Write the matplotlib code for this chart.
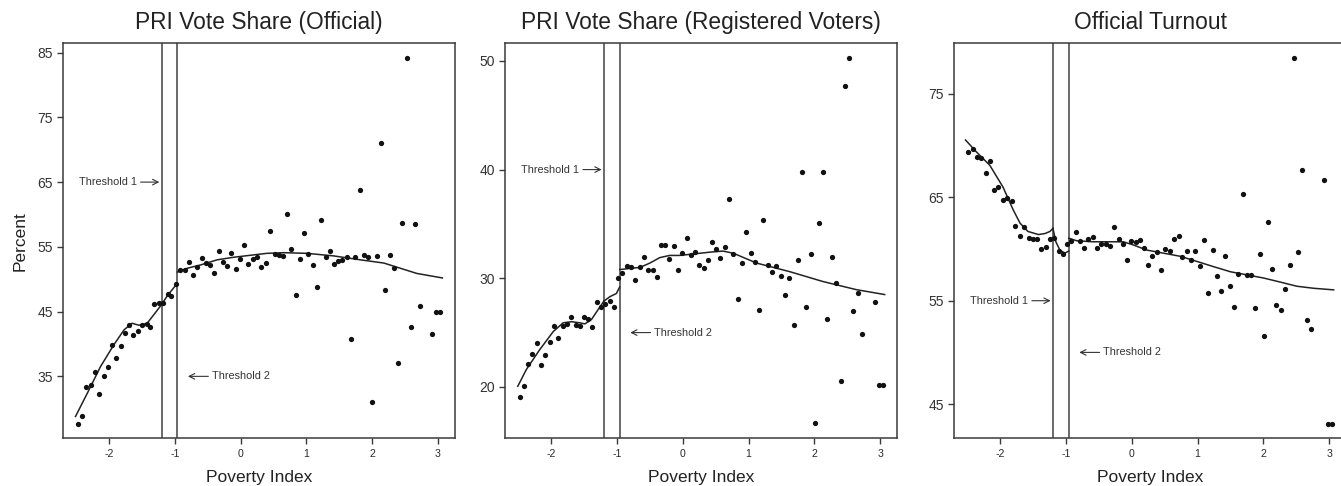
import matplotlib
matplotlib.use("Agg")
import matplotlib.pyplot as plt

plt.rcParams['font.family'] = ['Liberation Sans', 'DejaVu Sans']
plt.rcParams['axes.unicode_minus'] = False

# ---------------- data ----------------
titles = ["PRI Vote Share (Official)", "PRI Vote Share (Registered Voters)", "Official Turnout"]
x_label = "Poverty Index"
y_label = "Percent"
threshold1 = -1.2
threshold2 = -0.96

# Panel 1: PRI vote share (official)
p1_x = [-2.477, -2.41, -2.345, -2.28, -2.21, -2.15, -2.08, -2.02, -1.95, -1.89, -1.82, -1.76,
        -1.69, -1.63, -1.565, -1.50, -1.43, -1.37, -1.31, -1.24, -1.175, -1.11, -1.05, -0.98,
        -0.92, -0.85, -0.79, -0.72, -0.66, -0.59, -0.53, -0.47, -0.40, -0.33, -0.27, -0.21,
        -0.14, -0.07, -0.01, 0.06, 0.12, 0.19, 0.25, 0.319, 0.385, 0.45, 0.517, 0.578, 0.643,
        0.709, 0.775, 0.84, 0.90, 0.968, 1.033, 1.10, 1.165, 1.23, 1.297, 1.357, 1.42, 1.49,
        1.55, 1.62, 1.68, 1.748, 1.81, 1.88, 1.945, 2.006, 2.07, 2.138, 2.20, 2.27, 2.33,
        2.396, 2.46, 2.53, 2.59, 2.66, 2.725, 2.91, 2.98, 3.04]
p1_y = [27.6, 28.9, 33.4, 33.7, 35.6, 32.3, 35.0, 36.5, 39.9, 37.9, 39.7, 41.7,
        42.9, 41.4, 42.0, 42.9, 43.1, 42.7, 46.1, 46.4, 46.3, 47.7, 47.4, 49.3,
        51.4, 51.5, 52.6, 50.7, 51.9, 53.3, 52.5, 52.2, 51.0, 54.4, 52.7, 52.1,
        54.0, 51.6, 53.1, 55.3, 52.4, 53.2, 53.5, 51.9, 52.5, 57.4, 53.9, 53.7, 53.6,
        60.0, 54.6, 47.5, 53.2, 57.1, 53.9, 52.2, 48.8, 59.2, 53.5, 54.4, 52.3, 52.8,
        53.0, 53.5, 40.8, 53.5, 63.8, 53.7, 53.5, 31.1, 53.6, 71.1, 48.3, 53.7, 51.7,
        37.0, 58.7, 84.2, 42.7, 58.6, 45.8, 41.6, 44.9, 44.9]
p1_fit_x = [-2.51, -2.33, -2.13, -1.925, -1.77, -1.65, -1.545, -1.42, -1.32, -1.20,
            -1.20, -1.11, -1.03, -0.96,
            -0.96, -0.81, -0.61, -0.355, -0.10, 0.15, 0.40, 0.66, 1.01, 1.42, 1.82, 2.18,
            2.43, 2.68, 3.07]
p1_fit_y = [28.8, 32.4, 36.5, 39.9, 42.2, 43.2, 42.9, 43.2, 44.5, 46.1,
            46.1, 47.5, 48.5, 49.4,
            51.1, 51.7, 52.2, 53.0, 53.4, 53.7, 54.0, 54.1, 54.0, 53.6, 53.0, 52.5,
            51.7, 50.9, 50.2]

# Panel 2: PRI vote share (registered voters)
p2_x = [-2.48, -2.415, -2.35, -2.29, -2.22, -2.156, -2.09, -2.02, -1.96, -1.90, -1.83, -1.766,
        -1.70, -1.63, -1.57, -1.50, -1.436, -1.375, -1.31, -1.24, -1.18, -1.11, -1.05, -0.984,
        -0.918, -0.85, -0.786, -0.72, -0.654, -0.594, -0.528, -0.46, -0.40, -0.335, -0.27,
        -0.21, -0.137, -0.07, -0.005, 0.06, 0.12, 0.19, 0.25, 0.315, 0.38, 0.446, 0.51, 0.573,
        0.64, 0.705, 0.77, 0.837, 0.90, 0.964, 1.03, 1.096, 1.16, 1.22, 1.29, 1.354, 1.42,
        1.486, 1.55, 1.618, 1.684, 1.745, 1.816, 1.877, 1.943, 2.01, 2.07, 2.136, 2.20, 2.27,
        2.33, 2.40, 2.46, 2.53, 2.59, 2.66, 2.72, 2.92, 2.98, 3.04]
p2_y = [19.05, 20.06, 22.1, 23.0, 24.0, 22.0, 22.9, 24.1, 25.6, 24.5, 25.6, 25.8,
        26.4, 25.7, 25.6, 26.4, 26.25, 25.5, 27.8, 27.35, 27.65, 27.9, 27.4, 30.0,
        30.5, 31.1, 31.0, 29.8, 31.0, 32.0, 30.8, 30.8, 30.1, 33.1, 33.1,
        31.8, 33.0, 30.8, 32.35, 33.7, 32.1, 32.4, 31.2, 30.9, 31.7, 33.3, 32.65, 31.86,
        32.9, 37.3, 32.2, 28.1, 31.4, 34.3, 32.3, 31.5, 27.1, 35.4, 31.2, 30.6, 31.1,
        30.2, 28.5, 30.0, 25.7, 31.7, 39.8, 27.4, 32.25, 16.7, 35.1, 39.8, 26.25, 32.0,
        29.6, 20.5, 47.7, 50.3, 27.0, 28.6, 24.9, 27.8, 20.2, 20.2]
p2_fit_x = [-2.51, -2.38, -2.18, -1.97, -1.82, -1.69, -1.57, -1.49, -1.39, -1.29, -1.20,
            -1.20, -1.11, -1.01, -0.96,
            -0.96, -0.81, -0.65, -0.50, -0.35, -0.20, -0.05, 0.11, 0.41, 0.61, 0.77, 1.12,
            1.63, 2.13, 2.64, 3.07]
p2_fit_y = [20.06, 21.6, 23.4, 25.1, 25.9, 26.0, 25.9, 25.8, 26.2, 27.1, 27.9,
            27.9, 28.3, 28.6, 29.2,
            30.8, 30.9, 31.0, 31.4, 31.9, 32.1, 32.1, 32.2, 32.4, 32.5, 32.3, 31.4,
            30.6, 29.7, 28.95, 28.5]

# Panel 3: official turnout
p3_x = [-2.487, -2.42, -2.355, -2.29, -2.22, -2.16, -2.094, -2.03, -1.96, -1.90, -1.83, -1.77,
        -1.70, -1.64, -1.57, -1.51, -1.44, -1.38, -1.31, -1.245, -1.185, -1.115, -1.05,
        -0.986, -0.92, -0.856, -0.79, -0.725, -0.66, -0.595, -0.53, -0.465, -0.40, -0.33,
        -0.27, -0.20, -0.14, -0.073, -0.007, 0.06, 0.12, 0.186, 0.25, 0.313, 0.38, 0.445,
        0.51, 0.577, 0.643, 0.71, 0.77, 0.836, 0.90, 0.968, 1.034, 1.10, 1.16, 1.228, 1.294,
        1.355, 1.42, 1.487, 1.55, 1.62, 1.685, 1.746, 1.81, 1.878, 1.944, 2.01, 2.07, 2.137,
        2.20, 2.27, 2.335, 2.40, 2.46, 2.53, 2.59, 2.66, 2.73, 2.92, 2.98, 3.04]
p3_y = [69.4, 69.7, 68.9, 68.85, 67.4, 68.5, 65.7, 66.0, 64.7, 64.9, 64.6, 62.2,
        61.3, 62.1, 61.1, 60.95, 60.95, 60.0, 60.2, 60.95, 61.1, 59.8, 59.5,
        60.5, 60.8, 61.6, 60.8, 60.1, 60.95, 61.2, 60.1, 60.5, 60.5, 60.3,
        62.1, 61.0, 60.5, 58.9, 60.8, 60.7, 60.9, 60.1, 58.5, 59.3, 59.75, 58.0,
        60.05, 59.8, 61.0, 61.3, 59.2, 59.85, 58.9, 59.85, 58.4, 60.9, 55.7, 59.95, 57.4,
        55.9, 59.3, 56.4, 54.4, 57.6, 65.3, 57.5, 57.5, 54.25, 59.5, 51.6, 62.6, 58.1,
        54.6, 54.1, 56.1, 58.5, 78.5, 59.7, 67.6, 53.15, 52.3, 66.7, 43.1, 43.1]
p3_fit_x = [-2.53, -2.365, -2.16, -1.96, -1.805, -1.70, -1.58, -1.42, -1.32, -1.245, -1.20,
            -1.20, -1.155, -1.095, -1.02, -0.96,
            -0.96, -0.84, -0.59, -0.33, -0.13, 0.02, 0.227, 0.48, 0.735, 0.99, 1.24, 1.50,
            1.75, 2.00, 2.26, 2.51, 2.77, 3.07]
p3_fit_y = [70.55, 69.4, 68.1, 66.0, 63.8, 62.5, 61.7, 61.4, 61.5, 61.7, 62.0,
            62.0, 60.7, 59.9, 59.6, 59.8,
            61.05, 60.8, 60.7, 60.7, 60.7, 60.4, 59.9, 59.6, 59.3, 58.8, 58.3, 57.8,
            57.5, 57.2, 56.8, 56.4, 56.2, 56.05]

p1_yticks = [35, 45, 55, 65, 75, 85]
p2_yticks = [20, 30, 40, 50]
p3_yticks = [45, 55, 65, 75]
x_ticks = [-2, -1, 0, 1, 2, 3]

# label positions (y) for annotations
p1_ann_y = [65, 35]
p2_ann_y = [40, 25]
p3_ann_y = [55, 50]

panels = [
    (p1_x, p1_y, p1_fit_x, p1_fit_y, p1_yticks, (25.48, 86.44), p1_ann_y),
    (p2_x, p2_y, p2_fit_x, p2_fit_y, p2_yticks, (15.3, 51.62), p2_ann_y),
    (p3_x, p3_y, p3_fit_x, p3_fit_y, p3_yticks, (41.72, 79.9), p3_ann_y),
]

# ---------------- figure ----------------
W, H = 1341, 486
fig = plt.figure(figsize=(W / 100, H / 100), dpi=100)
lefts = [63, 505.3, 954.3]
ax_w, ax_h, ax_b = 392, 394.7, 48

dark = "#3a3a3a"
for i, (xs, ys, fx, fy, yt, ylim, ann_y) in enumerate(panels):
    ax = fig.add_axes([lefts[i] / W, ax_b / H, ax_w / W, ax_h / H])
    ax.set_xlim(-2.70, 3.262)
    ax.set_ylim(*ylim)
    for s in ax.spines.values():
        s.set_color(dark)
        s.set_linewidth(1.1)
    ax.axvline(threshold1, color="#505050", lw=1.2)
    ax.axvline(threshold2, color="#505050", lw=1.2)
    # fitted curve: three segments split at thresholds
    segs = [[], [], []]
    k = 0
    for j in range(len(fx)):
        if j > 0 and fx[j] == fx[j - 1]:
            k += 1
        segs[k].append((fx[j], fy[j]))
    for seg in segs:
        ax.plot([p[0] for p in seg], [p[1] for p in seg], color="#222222", lw=1.1)
    ax.plot(xs, ys, 'o', color="#111111", markersize=3.8, markeredgewidth=0)

    ax.set_xticks(x_ticks)
    ax.set_yticks(yt)
    ax.tick_params(axis='x', direction='out', length=4.5, width=1.0, color=dark,
                   labelsize=7.6, pad=3.3, labelcolor="#2a2a2a")
    ax.tick_params(axis='y', direction='out', length=4.3, width=1.0, color=dark,
                   labelsize=10, pad=3.0, labelcolor="#333333")
    ax.set_title(titles[i], fontsize=16.4, pad=10.5, color="#222222")
    ax.set_xlabel(x_label, fontsize=12.5, color="#222222")
    ax.xaxis.set_label_coords(0.5, (438 - 477) / ax_h)
    ax.xaxis.label.set_va('center')
    if i == 0:
        ax.set_ylabel(y_label, fontsize=12.5, color="#222222")
        ax.yaxis.set_label_coords((20 - 63) / ax_w, 0.5)
        ax.yaxis.label.set_va('center')

    # annotations
    ax.text(-1.575, ann_y[0], "Threshold 1", fontsize=7.8, ha='right', va='center', color="#333333")
    ax.annotate("", xy=(-1.235, ann_y[0]), xytext=(-1.52, ann_y[0]),
                arrowprops=dict(arrowstyle='->', color="#333333", lw=0.8,
                                shrinkA=0, shrinkB=0))
    ax.annotate("", xy=(-0.80, ann_y[1]), xytext=(-0.49, ann_y[1]),
                arrowprops=dict(arrowstyle='->', color="#333333", lw=0.8,
                                shrinkA=0, shrinkB=0))
    ax.text(-0.44, ann_y[1], "Threshold 2", fontsize=7.8, ha='left', va='center', color="#333333")

fig.savefig("out.png", dpi=100)
